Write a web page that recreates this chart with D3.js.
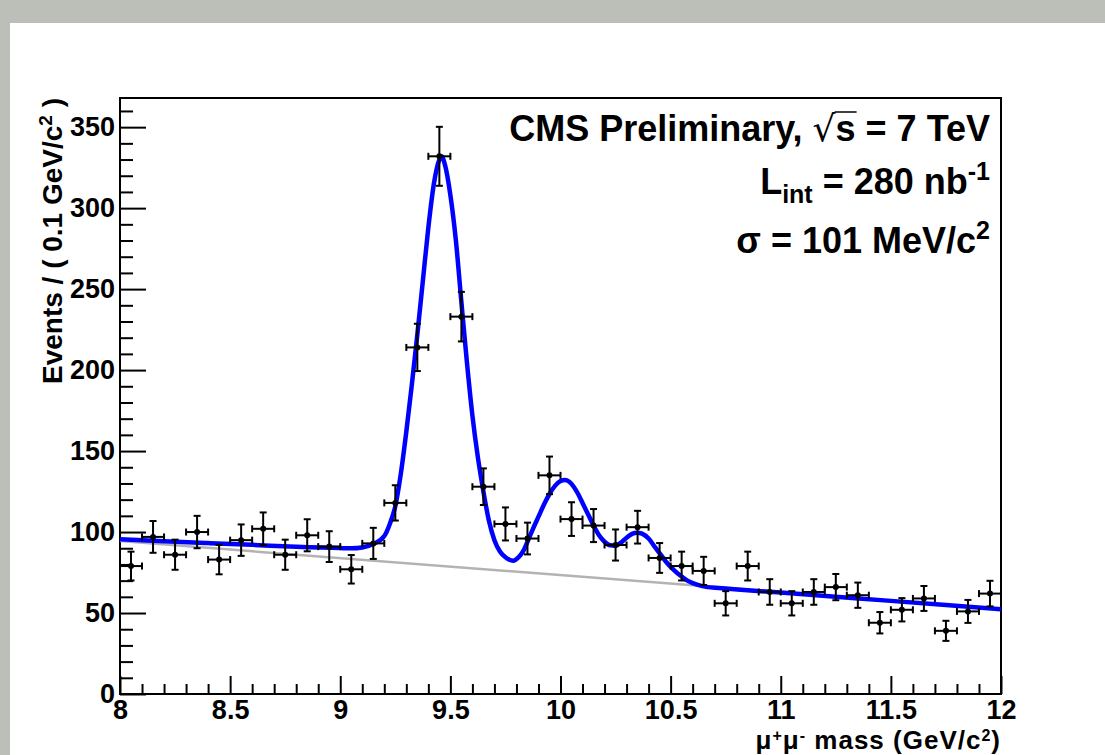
<!DOCTYPE html>
<html><head><meta charset="utf-8">
<script src="https://cdn.jsdelivr.net/npm/d3@7"></script>
<style>html,body{margin:0;padding:0;background:#fff;} svg{display:block}</style>
</head><body>
<svg id="c" width="1105" height="755"></svg>
<script>
// ---------------- data ----------------
const binCenters = [8.05, 8.15, 8.25, 8.35, 8.45, 8.55, 8.65, 8.75, 8.85, 8.95,
  9.05, 9.15, 9.25, 9.35, 9.45, 9.55, 9.65, 9.75, 9.85, 9.95,
  10.05, 10.15, 10.25, 10.35, 10.45, 10.55, 10.65, 10.75, 10.85, 10.95,
  11.05, 11.15, 11.25, 11.35, 11.45, 11.55, 11.65, 11.75, 11.85, 11.95];
const counts = [79, 97, 86, 100, 83, 95, 102, 86, 98, 91,
  77, 93, 118, 214, 332, 233, 128, 105, 96, 135,
  108, 104, 92, 103, 84, 79, 76, 56, 79, 63,
  56, 63, 66, 61, 44, 52, 59, 39, 51, 62];
const errors = [8.9, 9.8, 9.3, 10.0, 9.1, 9.7, 10.1, 9.3, 9.9, 9.5,
  8.8, 9.6, 10.9, 14.6, 18.2, 15.3, 11.3, 10.2, 9.8, 11.6,
  10.4, 10.2, 9.6, 10.1, 9.2, 8.9, 8.7, 7.5, 8.9, 7.9,
  7.5, 7.9, 8.1, 7.8, 6.6, 7.2, 7.7, 6.2, 7.1, 7.9];
const binHalfWidth = 0.05;

const fitMass = [8.0, 8.2, 8.4, 8.6, 8.8, 9.0, 9.05, 9.1, 9.15, 9.2,
  9.225, 9.25, 9.275, 9.3, 9.325, 9.35, 9.375, 9.4, 9.425, 9.45,
  9.46, 9.475, 9.5, 9.525, 9.55, 9.575, 9.6, 9.625, 9.65, 9.675,
  9.7, 9.725, 9.75, 9.785, 9.81, 9.83, 9.85, 9.875, 9.9, 9.925,
  9.95, 9.975, 10.0, 10.02, 10.04, 10.06, 10.08, 10.1, 10.125, 10.15,
  10.175, 10.2, 10.225, 10.25, 10.275, 10.3, 10.325, 10.348, 10.37, 10.4,
  10.43, 10.455, 10.48, 10.515, 10.55, 10.576, 10.62, 10.667, 10.72, 10.818,
  11.0, 11.5, 12.0];
const fitValue = [95.5, 94.3, 93.2, 92.1, 90.9, 90.1, 90.0, 90.5, 92.6, 97.5,
  105, 116, 136, 162, 191, 222, 255, 288, 315, 330,
  332, 327, 308, 280, 242, 205, 172, 146, 125, 107,
  95, 88, 84.5, 82.3, 84.5, 88, 94, 102, 109.5, 117,
  123.5, 128.5, 131.5, 132.2, 131, 128, 123.5, 118, 111, 104,
  98, 94, 91.8, 91.6, 93.5, 96.5, 98.9, 99.6, 99, 96,
  90.5, 86, 81.5, 76.5, 72.5, 70, 67.5, 66, 65.5, 64.4,
  62.6, 57.5, 52.4];
const bkgMass = [8.0, 12.0];
const bkgValue = [94.4, 52.4];

const xMajorTicks = [8, 8.5, 9, 9.5, 10, 10.5, 11, 11.5, 12];
const xTickLabels = ["8", "8.5", "9", "9.5", "10", "10.5", "11", "11.5", "12"];
const yMajorTicks = [0, 50, 100, 150, 200, 250, 300, 350];
const yTickLabels = ["0", "50", "100", "150", "200", "250", "300", "350"];

// ---------------- layout ----------------
const FONT = "'Liberation Sans', Arial, Helvetica, sans-serif";
const svg = d3.select('#c');
svg.append('rect').attr('width', 1105).attr('height', 755).attr('fill', '#bcbfb7');
svg.append('rect').attr('x', 10).attr('y', 23).attr('width', 1095).attr('height', 732).attr('fill', '#ffffff');

const L = 120, R = 1001, T = 98, B = 694;
const x = d3.scaleLinear().domain([8, 12]).range([L, R]);
const y = d3.scaleLinear().domain([0, 368]).range([B, T]);

svg.append('clipPath').attr('id', 'clip').append('rect')
  .attr('x', L).attr('y', T).attr('width', R - L).attr('height', B - T);

// minor ticks
const xMinor = d3.range(8, 12.0001, 0.1).filter(v => Math.abs(v * 2 - Math.round(v * 2)) > 1e-6);
const yMinor = d3.range(0, 368, 10).filter(v => v % 50 !== 0);

function styleAxis(g) {
  g.select('.domain').remove();
  g.selectAll('.tick line').attr('stroke', '#000').attr('stroke-width', 2);
  g.attr('font-family', FONT).attr('font-size', 27).attr('font-weight', 'bold');
  g.selectAll('.tick text').attr('fill', '#000');
}
const gxMin = svg.append('g').attr('transform', `translate(0,${B})`)
  .call(d3.axisBottom(x).tickValues(xMinor).tickSize(-10).tickFormat(''));
styleAxis(gxMin);
const gx = svg.append('g').attr('transform', `translate(0,${B})`)
  .call(d3.axisBottom(x).tickValues(xMajorTicks).tickSize(-18).tickPadding(6)
    .tickFormat((d, i) => xTickLabels[i]));
styleAxis(gx);

const gyMin = svg.append('g').attr('transform', `translate(${L},0)`)
  .call(d3.axisLeft(y).tickValues(yMinor).tickSize(-13).tickFormat(''));
styleAxis(gyMin);
const gy = svg.append('g').attr('transform', `translate(${L},0)`)
  .call(d3.axisLeft(y).tickValues(yMajorTicks).tickSize(-26).tickPadding(5)
    .tickFormat((d, i) => yTickLabels[i]));
styleAxis(gy);

// frame
svg.append('rect').attr('x', L).attr('y', T).attr('width', R - L).attr('height', B - T)
  .attr('fill', 'none').attr('stroke', '#000').attr('stroke-width', 2);

// curves
const plot = svg.append('g').attr('clip-path', 'url(#clip)');
const bkgPts = bkgMass.map((m, i) => [m, bkgValue[i]]);
plot.append('path').datum(bkgPts)
  .attr('d', d3.line().x(d => x(d[0])).y(d => y(d[1])))
  .attr('fill', 'none').attr('stroke', '#b3b3b3').attr('stroke-width', 2.5);
const fitPts = fitMass.map((m, i) => [m, fitValue[i]]);
plot.append('path').datum(fitPts)
  .attr('d', d3.line().curve(d3.curveMonotoneX).x(d => x(d[0])).y(d => y(d[1])))
  .attr('fill', 'none').attr('stroke', '#0000ff').attr('stroke-width', 4.5)
  .attr('stroke-linejoin', 'round');

// data points
const pts = binCenters.map((m, i) => ({ m, v: counts[i], e: errors[i] }));
const gp = svg.append('g').attr('stroke', '#000').attr('stroke-width', 2);
const cap = 3.5;
pts.forEach(d => {
  const cx = x(d.m), cy = y(d.v);
  const x0 = x(d.m - binHalfWidth), x1 = x(d.m + binHalfWidth);
  const y0 = y(d.v - d.e), y1 = y(d.v + d.e);
  gp.append('line').attr('x1', x0).attr('x2', x1).attr('y1', cy).attr('y2', cy);
  gp.append('line').attr('x1', cx).attr('x2', cx).attr('y1', y0).attr('y2', y1);
  gp.append('line').attr('x1', cx - cap).attr('x2', cx + cap).attr('y1', y0).attr('y2', y0);
  gp.append('line').attr('x1', cx - cap).attr('x2', cx + cap).attr('y1', y1).attr('y2', y1);
  gp.append('line').attr('x1', x0).attr('x2', x0).attr('y1', cy - cap).attr('y2', cy + cap);
  gp.append('line').attr('x1', x1).attr('x2', x1).attr('y1', cy - cap).attr('y2', cy + cap);
});
svg.append('g').selectAll('circle').data(pts).join('circle')
  .attr('cx', d => x(d.m)).attr('cy', d => y(d.v)).attr('r', 3).attr('fill', '#000');

// ---------------- texts ----------------
function richText(parent, parts, attrs) {
  const t = parent.append('text').attr('font-family', FONT).attr('font-weight', 'bold').attr('fill', '#000');
  Object.entries(attrs).forEach(([k, v]) => t.attr(k, v));
  parts.forEach(p => {
    const s = t.append('tspan').text(p.t);
    if (p.dy) s.attr('dy', p.dy);
    if (p.fs) s.attr('font-size', p.fs);
    if (p.ff) s.attr('font-family', p.ff).attr('font-weight', p.fw || 'normal');
  });
  return t;
}
const TX = 990;
const t1 = richText(svg, [
  { t: 'CMS Preliminary, ' },
  { t: '\u221A', ff: "'DejaVu Sans', sans-serif", fw: 'normal' },
  { t: 's' },
  { t: ' = 7 TeV' }
], { x: TX, y: 141, 'text-anchor': 'end', 'font-size': 36 });
// overline of the square root
const n1 = t1.node();
const sIdx = 'CMS Preliminary, \u221A'.length;
const ext = n1.getExtentOfChar(sIdx);
const rootExt = n1.getExtentOfChar(sIdx - 1);
svg.append('line').attr('x1', rootExt.x + rootExt.width - 1).attr('x2', ext.x + ext.width + 1)
  .attr('y1', 141 - 29).attr('y2', 141 - 29).attr('stroke', '#000').attr('stroke-width', 1.5);

richText(svg, [
  { t: 'L' },
  { t: 'int', fs: 25, dy: 9 },
  { t: ' = 280 nb', dy: -9 },
  { t: '-1', fs: 25, dy: -14 }
], { x: TX, y: 194, 'text-anchor': 'end', 'font-size': 36 });

richText(svg, [
  { t: '\u03C3 = 101 MeV/c' },
  { t: '2', fs: 25, dy: -14 }
], { x: TX, y: 253, 'text-anchor': 'end', 'font-size': 36 });

// x title
richText(svg, [
  { t: '\u03BC' },
  { t: '+', fs: 16, dy: -8 },
  { t: '\u03BC', dy: 8 },
  { t: '-', fs: 16, dy: -8 },
  { t: ' mass (GeV/c', dy: 8 },
  { t: '2', fs: 16, dy: -8 },
  { t: ')', dy: 8 }
], { x: R, y: 749, 'text-anchor': 'end', 'font-size': 26, 'letter-spacing': 1 });

// y title
richText(svg, [
  { t: 'Events / ( 0.1 GeV/c' },
  { t: '2', fs: 19, dy: -10 },
  { t: ' )', dy: 10 }
], { transform: `translate(62,${T}) rotate(-90)`, x: 0, y: 0, 'text-anchor': 'end', 'font-size': 28 });
</script>
</body></html>
